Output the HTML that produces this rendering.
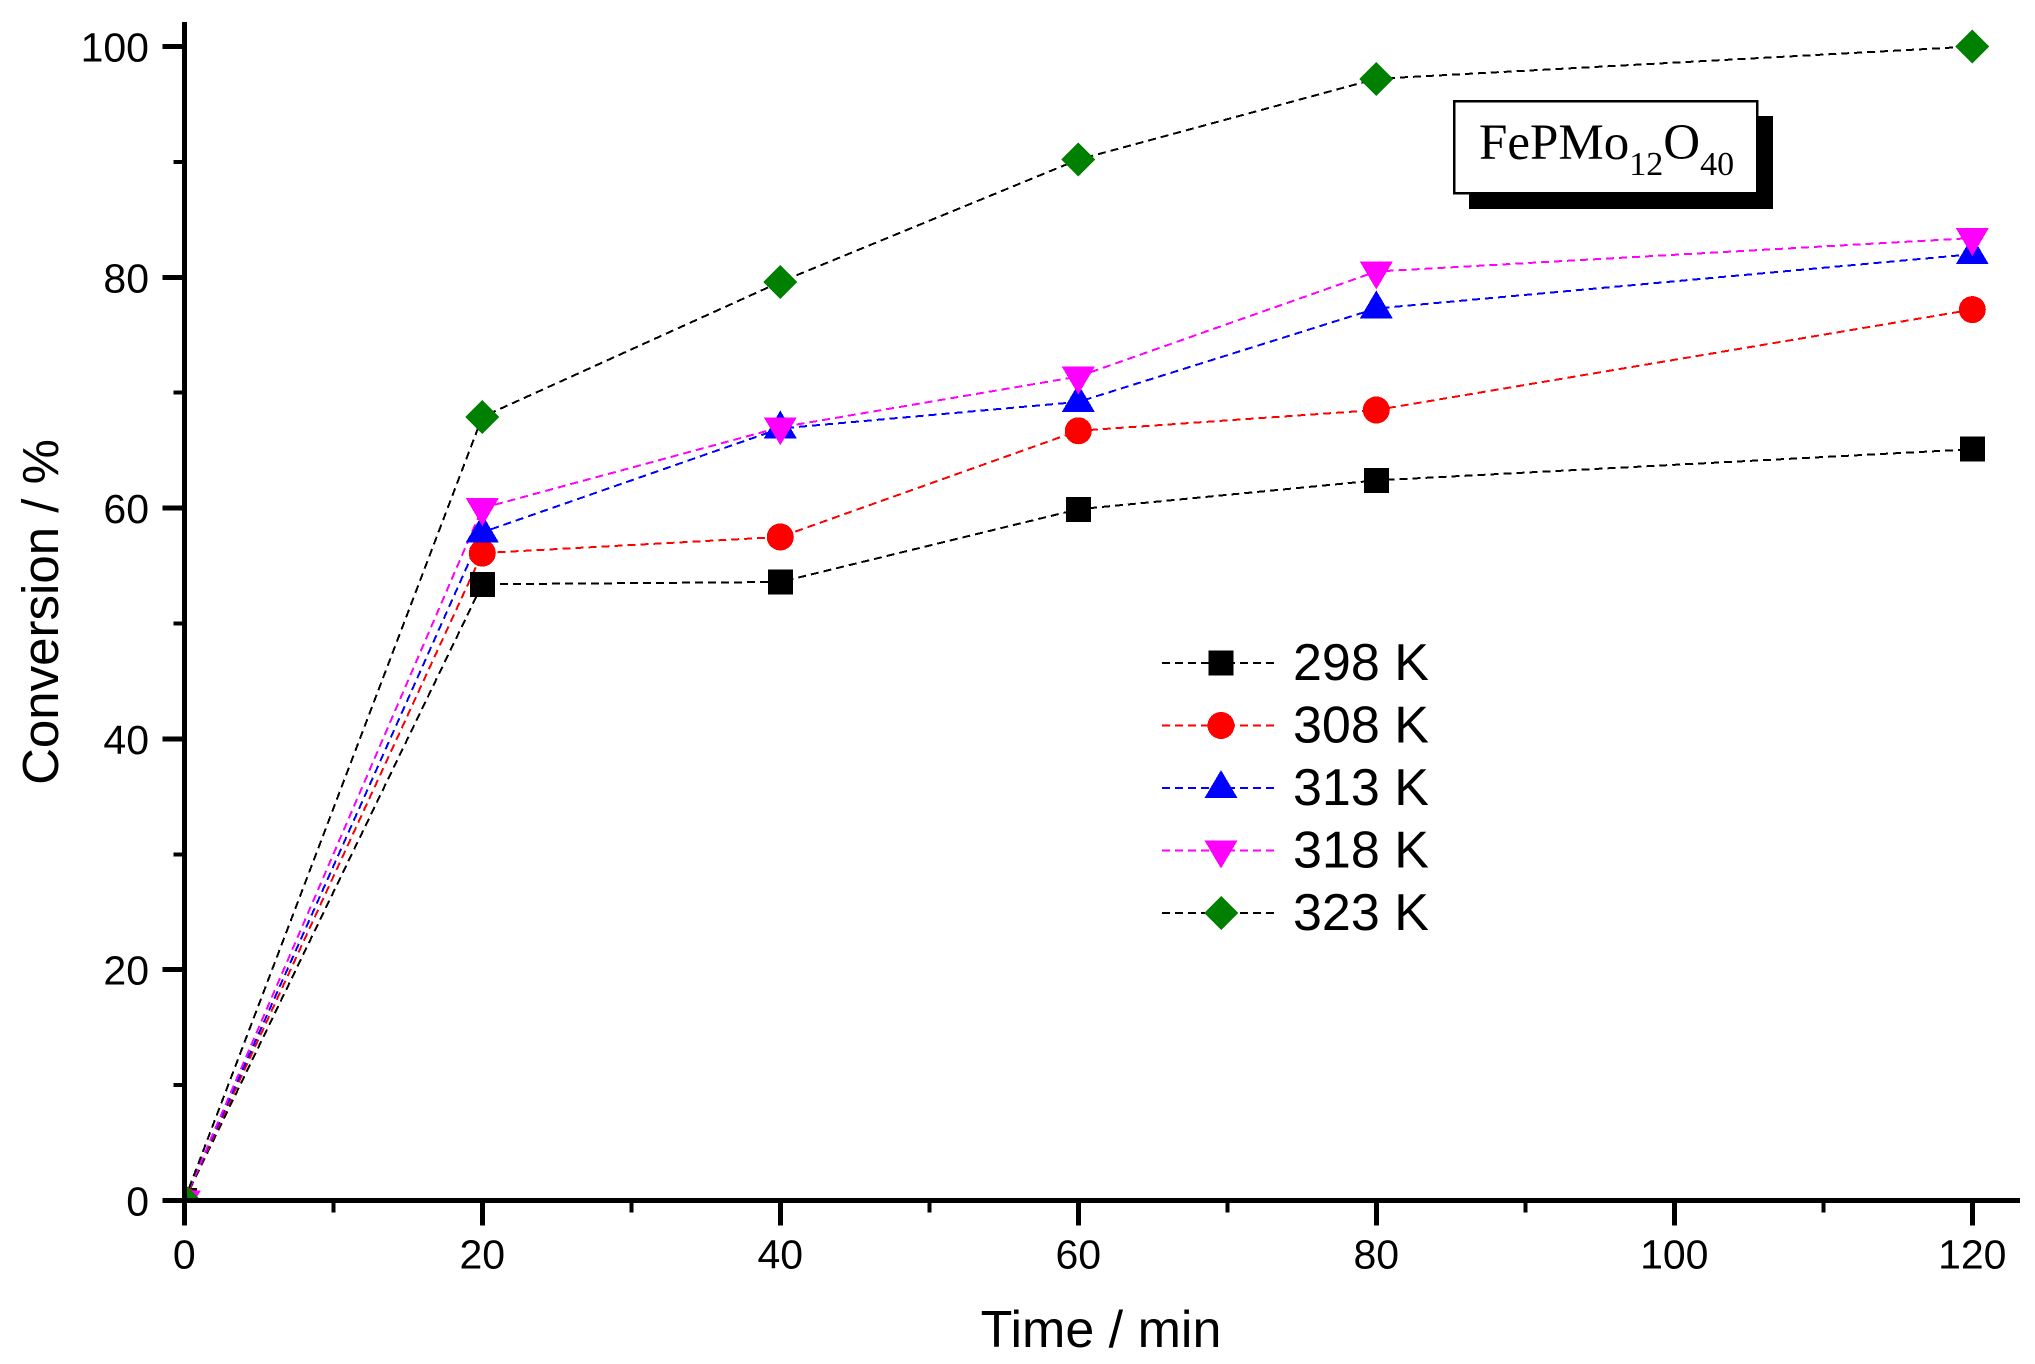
<!DOCTYPE html>
<html lang="en">
<head>
<meta charset="utf-8">
<title>FePMo12O40 conversion vs time</title>
<style>
html,body{margin:0;padding:0;background:#fff;width:2035px;height:1364px;overflow:hidden}
svg{display:block;font-family:"Liberation Sans",sans-serif;shape-rendering:crispEdges}
</style>
</head>
<body>
<svg id="chart" xmlns="http://www.w3.org/2000/svg" width="2035" height="1364" viewBox="0 0 2035 1364">
  <defs>
    <clipPath id="plot-clip"><rect x="184" y="0" width="1851" height="1201"/></clipPath>
  </defs>
  <rect width="2035" height="1364" fill="#fff"/>
  <g id="series-layer" clip-path="url(#plot-clip)"></g>
  <g id="axes-layer"></g>
  <g id="legend-layer"></g>
  <g>
    <rect x="1469" y="116" width="304" height="93" fill="#000"/>
    <rect x="1454" y="101" width="303" height="92" fill="#fff" stroke="#000" stroke-width="2.5"/>
    <text x="1479" y="159" font-family="'Liberation Serif',serif" font-size="51" fill="#000">FePMo<tspan font-size="34" dy="16">12</tspan><tspan dy="-16">O</tspan><tspan font-size="34" dy="16">40</tspan></text>
  </g>
  <text x="1101" y="1347" text-anchor="middle" font-size="52" fill="#000">Time / min</text>
  <text transform="translate(58 612) rotate(-90)" text-anchor="middle" font-size="51" fill="#000">Conversion / %</text>
</svg>
<script>
const times = [0, 20, 40, 60, 80, 120];
const seriesNames = ['298 K', '308 K', '313 K', '318 K', '323 K'];
const values298 = [0, 53.4, 53.6, 59.9, 62.4, 65.1];
const values308 = [0, 56.1, 57.5, 66.7, 68.5, 77.2];
const values313 = [0, 57.9, 66.9, 69.2, 77.3, 82.0];
const values318 = [0, 60.0, 67.0, 71.4, 80.5, 83.4];
const values323 = [0, 67.9, 79.6, 90.2, 97.2, 100];
const xMajorTicks = [0, 20, 40, 60, 80, 100, 120];
const xMinorTicks = [10, 30, 50, 70, 90, 110];
const yMajorTicks = [0, 20, 40, 60, 80, 100];
const yMinorTicks = [10, 30, 50, 70, 90];

const NS = 'http://www.w3.org/2000/svg';
const X0 = 184.3, X_PER_MIN = 14.9, Y0 = 1200.5, Y_PER_PCT = 11.54;
const xScale = v => X0 + v * X_PER_MIN;
const yScale = v => Y0 - v * Y_PER_PCT;

const seriesStyles = [
  {values: values298, line: '#000', fill: '#000', shape: 'square', slug: '298k'},
  {values: values308, line: '#f00', fill: '#f00', shape: 'circle', slug: '308k'},
  {values: values313, line: '#00f', fill: '#00f', shape: 'up', slug: '313k'},
  {values: values318, line: '#f0f', fill: '#f0f', shape: 'down', slug: '318k'},
  {values: values323, line: '#000', fill: '#008000', shape: 'diamond', slug: '323k'}
];

function make(tag, attrs, parent) {
  const el = document.createElementNS(NS, tag);
  for (const k in attrs) el.setAttribute(k, attrs[k]);
  parent.appendChild(el);
  return el;
}

function marker(shape, cx, cy, fill, parent) {
  if (shape === 'square') return make('rect', {x: cx - 12.5, y: cy - 12.5, width: 25, height: 25, fill}, parent);
  if (shape === 'circle') return make('circle', {cx, cy, r: 13.5, fill}, parent);
  if (shape === 'up') return make('polygon', {points: `${cx},${cy - 18} ${cx + 16.5},${cy + 10} ${cx - 16.5},${cy + 10}`, fill}, parent);
  if (shape === 'down') return make('polygon', {points: `${cx - 16.5},${cy - 10} ${cx + 16.5},${cy - 10} ${cx},${cy + 18}`, fill}, parent);
  return make('polygon', {points: `${cx},${cy - 17} ${cx + 17},${cy} ${cx},${cy + 17} ${cx - 17},${cy}`, fill}, parent);
}

const seriesLayer = document.getElementById('series-layer');
seriesStyles.forEach(s => {
  const pts = s.values.map((v, i) => `${xScale(times[i])},${yScale(v)}`).join(' ');
  const line = make('polyline', {points: pts, fill: 'none', stroke: s.line, 'stroke-width': 2, 'stroke-dasharray': '8 5'}, seriesLayer);
  
  
});
seriesStyles.forEach(s => {
  s.values.forEach((v, i) => {
    const m = marker(s.shape, xScale(times[i]), yScale(v), s.fill, seriesLayer);
    
    
  });
});

const axes = document.getElementById('axes-layer');
const yAxisLine = make('line', {x1: X0, x2: X0, y1: 22, y2: Y0 + 2.5, stroke: '#000', 'stroke-width': 5}, axes);


const xAxisLine = make('line', {x1: X0 - 2, x2: 2020, y1: Y0, y2: Y0, stroke: '#000', 'stroke-width': 5}, axes);



xMajorTicks.forEach(v => {
  const tick = make('line', {x1: xScale(v), x2: xScale(v), y1: Y0, y2: Y0 + 25, stroke: '#000', 'stroke-width': 5}, axes);
  
  
  const label = make('text', {x: xScale(v), y: Y0 + 68, 'text-anchor': 'middle', 'font-size': 41, fill: '#000'}, axes);
  label.textContent = String(v);
  
  
});
xMinorTicks.forEach(v => {
  const tick = make('line', {x1: xScale(v), x2: xScale(v), y1: Y0, y2: Y0 + 12, stroke: '#000', 'stroke-width': 4}, axes);
  
  
});
yMajorTicks.forEach(v => {
  const tick = make('line', {x1: X0 - 22, x2: X0, y1: yScale(v), y2: yScale(v), stroke: '#000', 'stroke-width': 5}, axes);
  
  
  const label = make('text', {x: 149, y: yScale(v) + 15, 'text-anchor': 'end', 'font-size': 41, fill: '#000'}, axes);
  label.textContent = String(v);
  
  
});
yMinorTicks.forEach(v => {
  const tick = make('line', {x1: X0 - 11, x2: X0, y1: yScale(v), y2: yScale(v), stroke: '#000', 'stroke-width': 4}, axes);
  
  
});

const legend = document.getElementById('legend-layer');
seriesStyles.forEach((s, i) => {
  const rowY = 663 + i * 62.5;
  const line = make('line', {x1: 1162, x2: 1276, y1: rowY, y2: rowY, stroke: s.line, 'stroke-width': 2, 'stroke-dasharray': '8 5'}, legend);
  
  
  const m = marker(s.shape, 1221, rowY, s.fill, legend);
  
  
  const label = make('text', {x: 1293, y: rowY + 17, 'font-size': 52, fill: '#000'}, legend);
  label.textContent = seriesNames[i];
  
  
});
</script>
</body>
</html>
